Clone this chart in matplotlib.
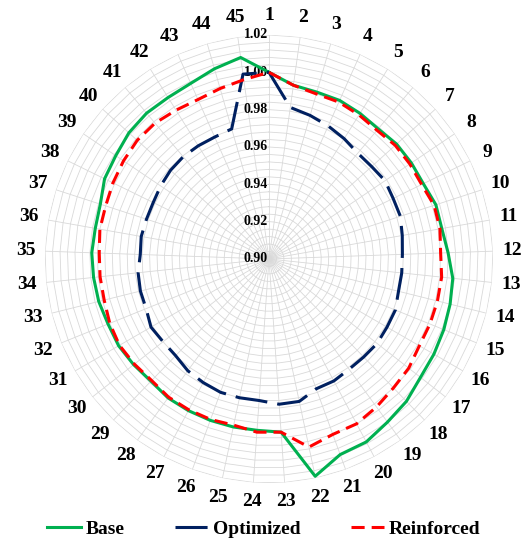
import numpy as np
import matplotlib
matplotlib.use("Agg")
import matplotlib.pyplot as plt
from matplotlib.transforms import offset_copy

plt.rcParams['font.family'] = ['Liberation Serif', 'DejaVu Serif']
plt.rcParams['font.weight'] = 'bold'

# spokes 1..45
categories = [str(i) for i in range(1, 46)]

base = [1.000, 0.994, 0.993, 0.993, 0.992, 0.991, 0.992, 0.992, 0.992, 0.994,
        0.994, 0.996, 0.999, 1.000, 1.001, 1.002, 1.003, 1.006, 1.008, 1.011,
        1.0115, 1.019, 0.993, 0.992, 0.992, 0.992, 0.992, 0.992, 0.991, 0.992,
        0.993, 0.993, 0.994, 0.9945, 0.995, 0.9945, 0.995, 0.998, 0.999, 1.001,
        1.002, 1.002, 1.003, 1.006, 1.009]

optimized = [1.000, 0.982, 0.980, 0.978, 0.976, 0.974, 0.974, 0.975, 0.974, 0.974,
             0.9725, 0.9715, 0.9715, 0.9715, 0.973, 0.973, 0.9735, 0.973, 0.973, 0.974,
             0.974, 0.978, 0.978, 0.976, 0.976, 0.976, 0.975, 0.974, 0.972, 0.972,
             0.973, 0.971, 0.971, 0.9705, 0.969, 0.9695, 0.969, 0.969, 0.970, 0.971,
             0.9715, 0.9715, 0.9715, 0.9725, 1.000]

reinforced = [1.000, 0.994, 0.992, 0.992, 0.991, 0.990, 0.991, 0.991, 0.991, 0.993,
              0.993, 0.992, 0.993, 0.993, 0.993, 0.993, 0.995, 0.996, 0.998, 1.000,
              1.000, 1.003, 0.993, 0.993, 0.991, 0.9915, 0.9915, 0.9915, 0.9905, 0.9915,
              0.9925, 0.992, 0.991, 0.991, 0.991, 0.992, 0.992, 0.993, 0.994, 0.995,
              0.995, 0.994, 0.9935, 0.995, 0.997]

r_min, r_max, r_minor = 0.90, 1.02, 0.004
r_labels = [0.90, 0.92, 0.94, 0.96, 0.98, 1.00, 1.02]

n = len(categories)
angles = np.arange(n) * 2 * np.pi / n
closed = np.append(angles, angles[0])

fig = plt.figure(figsize=(5.28, 5.39), dpi=100)
ax = fig.add_axes([0.0852, 0.1039, 0.8485, 0.8312], projection='polar')
ax.set_theta_zero_location('N')
ax.set_theta_direction(-1)
ax.set_ylim(r_min, r_max)
ax.grid(False)
ax.spines['polar'].set_visible(False)
ax.set_yticks([])

grid_col = '#d9d9d9'
# polygon rings
for lev in np.arange(r_min + r_minor, r_max + 1e-9, r_minor):
    ax.plot(closed, [lev] * len(closed), color=grid_col, lw=0.6, zorder=1)
# spokes
for a in angles:
    ax.plot([a, a], [r_min, r_max], color=grid_col, lw=0.6, zorder=1)

# radial value labels left of the first spoke
tr = offset_copy(ax.transData, fig=fig, x=-1, y=0, units='dots')
for v in r_labels:
    ax.text(0, v, f'{v:.2f}', transform=tr, ha='right', va='center',
            fontsize=10, fontweight='bold', color='black', zorder=2)

ax.plot(closed, base + base[:1], color='#00b050', lw=2.2, label='Base', zorder=3)
ax.plot(closed, optimized + optimized[:1], color='#002060', lw=2.2,
        dashes=(10.5, 3.3), label='Optimized', zorder=4)
ax.plot(closed, reinforced + reinforced[:1], color='#ff0000', lw=2.2,
        dashes=(4.3, 2.3), label='Reinforced', zorder=5)

ax.set_xticks(angles)
ax.set_xticklabels(categories, fontsize=14, fontweight='bold')
ax.tick_params(axis='x', pad=7, length=0)

fig.legend(loc='lower center', bbox_to_anchor=(0.5, -0.03), ncol=3, frameon=False,
           prop={'size': 14, 'weight': 'bold'}, handlelength=1.7,
           handletextpad=0.25, columnspacing=2.6)

fig.savefig('out.png', dpi=100)
